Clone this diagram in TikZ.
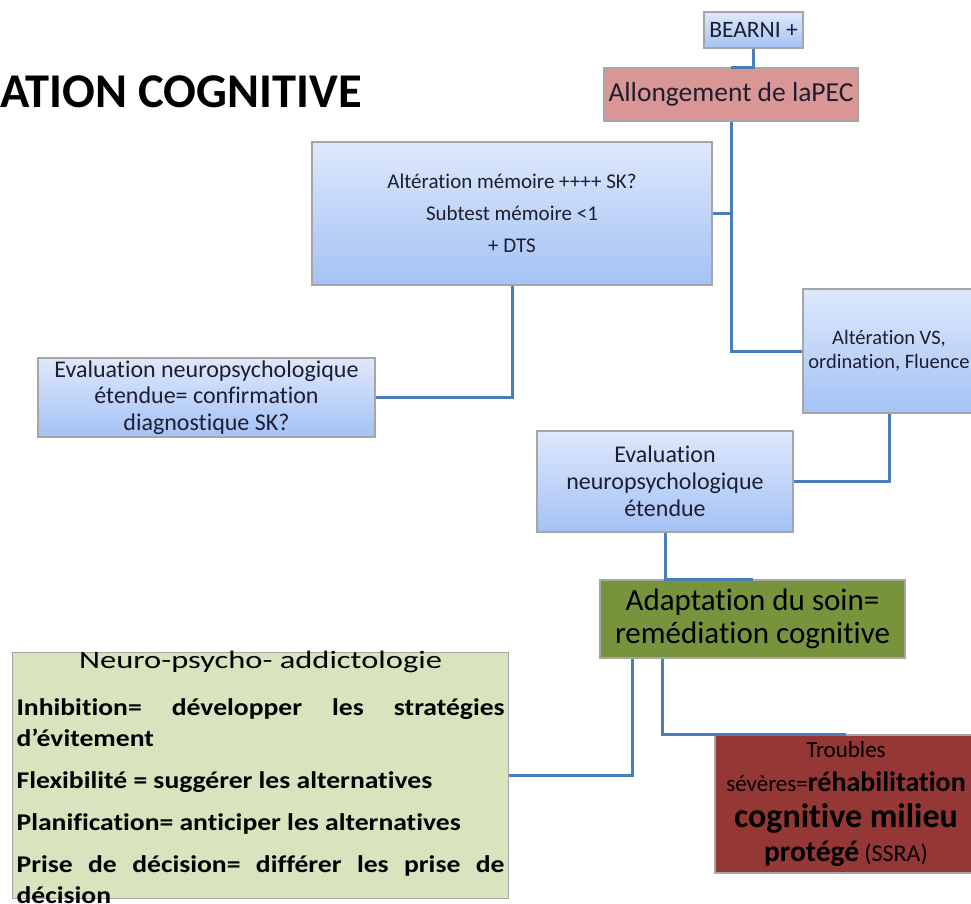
\documentclass[tikz,border=0pt]{standalone}
\usepackage{fontspec}
\setmainfont[Ligatures=NoCommon]{Carlito}
\newfontfamily\neurofont[Ligatures=NoCommon, FakeStretch=1.15]{Carlito}
\newfontfamily\neurotitle[Ligatures=NoCommon, FakeStretch=1.3]{Carlito}
\usepackage{tikz}
\definecolor{linkblue}{RGB}{74,126,187}
\definecolor{boxgray}{RGB}{166,166,166}
\definecolor{bluetop}{RGB}{222,232,252}
\definecolor{bluebot}{RGB}{164,194,245}
\definecolor{pecred}{RGB}{217,150,148}
\definecolor{soinolive}{RGB}{119,147,60}
\definecolor{sevred}{RGB}{149,55,53}
\definecolor{neurogreen}{RGB}{215,228,189}
\definecolor{inkblue}{RGB}{30,30,50}

\begin{document}
\begin{tikzpicture}[x=1pt, y=-1pt,
    box/.style={draw=boxgray, line width=1.2pt, align=center, inner sep=2pt, text=inkblue},
    bluebox/.style={box, top color=bluetop, bottom color=bluebot},
    link/.style={draw=linkblue, line width=3pt}]
        \useasboundingbox (0,0) rectangle (971,903);

        \node[anchor=base west, inner sep=0pt, font=\fontsize{48.5}{50}\selectfont\bfseries] (titre) at (0,107) {ATION COGNITIVE};

        \node[bluebox, minimum width=99pt, minimum height=36pt, font=\fontsize{23.5}{26}\selectfont] (bearni) at (753.5,30) {BEARNI +};
        \node[box, fill=pecred, minimum width=254pt, minimum height=53pt, font=\fontsize{27.5}{30}\selectfont] (allong) at (731,94.5) {Allongement de laPEC};
        \node[bluebox, minimum width=400pt, minimum height=143pt, font=\fontsize{21}{32}\selectfont] (memoire) at (512,213.5) {Altération mémoire ++++ SK?\\Subtest mémoire <1\\+ DTS};
        \node[bluebox, minimum width=337pt, minimum height=79pt, inner sep=1pt, font=\fontsize{24}{26.5}\selectfont] (evalL) at (206.5,397.5) {Evaluation neuropsychologique\\étendue= confirmation\\diagnostique SK?};
        \node[bluebox, minimum width=172pt, minimum height=124pt, font=\fontsize{20.5}{24}\selectfont] (vs) at (889,351) {Altération VS,\\ordination, Fluence};
        \node[bluebox, minimum width=256pt, minimum height=101pt, font=\fontsize{24}{27}\selectfont] (evalM) at (665,481.5) {Evaluation\\neuropsychologique\\étendue};
        \node[box, fill=soinolive, text=black, minimum width=305pt, minimum height=78pt, font=\fontsize{31}{33}\selectfont] (adapt) at (752.5,619) {Adaptation du soin=\\remédiation cognitive};
        \node[box, fill=sevred, text=black, minimum width=262pt, minimum height=138pt, font=\fontsize{23}{34}\selectfont] (troubles) at (846,804) {Troubles\\sévères=\textbf{\fontsize{28}{34}\selectfont réhabilitation}\\[2pt]\textbf{\fontsize{34}{34}\selectfont cognitive milieu}\\\textbf{\fontsize{29.5}{34}\selectfont protégé} {\fontsize{24}{34}\selectfont(SSRA)}};
        \node[box, anchor=north west, fill=neurogreen, text=black, align=justify, text width=488pt, inner sep=4pt, text height=12pt, text depth=226pt, font=\neurofont\fontsize{24}{31}\selectfont\bfseries] (neuro) at (12,652) {\tolerance=10000\hyphenpenalty=10000\setlength{\parskip}{11pt}%
            {\centering\neurotitle\mdseries\fontsize{25}{31}\selectfont Neuro-psycho- addictologie\par}\vspace{5pt}
            Inhibition= développer les stratégies d’évitement\par
            Flexibilité = suggérer les alternatives\par
            Planification= anticiper les alternatives\par
            Prise de décision= différer les prise de décision\par};

        \draw[link] (bearni) |- (allong.north);
        \draw[link] (allong) |- (memoire);
        \draw[link] (allong) |- (vs);
        \draw[link] (memoire) |- (evalL);
        \draw[link] (vs) |- (evalM);
        \draw[link] (evalM) |- (adapt.north);
        \draw[link] ([xshift=-120pt]adapt.south) |- (neuro);
        \draw[link] ([xshift=-90pt]adapt.south) |- (troubles.north);
    \end{tikzpicture}
\end{document}
